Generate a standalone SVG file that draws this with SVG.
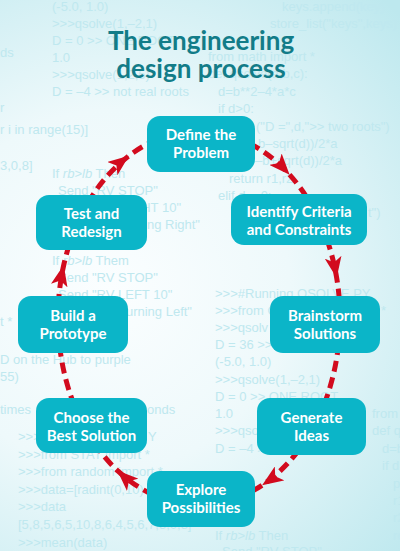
<svg xmlns="http://www.w3.org/2000/svg" width="400" height="551" viewBox="0 0 400 551">
<defs>
<radialGradient id="bg" cx="110" cy="290" r="400" gradientUnits="userSpaceOnUse">
<stop offset="0" stop-color="#fbfeff"/>
<stop offset="0.45" stop-color="#eef9fb"/>
<stop offset="1" stop-color="#bde8ee"/>
</radialGradient>
<marker id="ah" markerUnits="userSpaceOnUse" viewBox="0 0 20 16" refX="19" refY="8" markerWidth="21" markerHeight="17" orient="auto">
<path d="M0,0 L20,8 L0,16 L5,8 Z" fill="#d20b1e"/>
</marker>
<style>
.code{font-family:"Liberation Sans",Arial,sans-serif;font-size:13px;fill:#bfe8ef}
.title{font-family:Lato,"Noto Sans",sans-serif;font-weight:700;font-size:26px;fill:#127c88;text-anchor:middle}
.box{fill:#0bb5c8}
.lbl{font-family:Lato,"Noto Sans",sans-serif;font-weight:700;font-size:15px;fill:#ffffff;text-anchor:middle}
.conn{fill:none;stroke:#d20b1e;stroke-width:5;stroke-dasharray:11 6}
.e{text-anchor:end}
</style>
</defs>
<rect x="0" y="0" width="400" height="551" fill="url(#bg)"/>
<g id="background-code" class="code">
<text x="52" y="11">(-5.0, 1.0)</text>
<text x="52" y="28">&gt;&gt;&gt;qsolve(1,–2,1)</text>
<text x="52" y="45">D = 0 &gt;&gt; ONE ROOT</text>
<text x="52" y="62">1.0</text>
<text x="52" y="79">&gt;&gt;&gt;qsolve(1,2,5)</text>
<text x="52" y="96">D = –4 &gt;&gt; not real roots</text>
<text x="0" y="57">ds</text>
<text x="0" y="112">r</text>
<text x="0" y="134">r i in range(15)]</text>
<text x="0" y="170">3,0,8]</text>
<text x="52" y="178">If <tspan font-style="italic">rb</tspan>&gt;<tspan font-style="italic">lb</tspan> Then</text>
<text x="58" y="195">Send "RV STOP"</text>
<text class="e" x="181" y="212">HT 10"</text>
<text class="e" x="200" y="229">ing Right"</text>
<text x="52" y="265">If <tspan font-style="italic">rb</tspan>&gt;<tspan font-style="italic">lb</tspan> Them</text>
<text x="58" y="282">Send "RV STOP"</text>
<text x="58" y="299">Send "RV LEFT 10"</text>
<text class="e" x="192" y="316">urning Left"</text>
<text x="0" y="326">t *</text>
<text x="0" y="364">D on the Hub to purple</text>
<text x="0" y="381">55)</text>
<text x="0" y="414">times</text>
<text x="147" y="414">onds</text>
<text x="18" y="441">&gt;&gt;&gt;</text>
<text x="148" y="441">Y</text>
<text x="18" y="459">&gt;&gt;&gt;from STAT import *</text>
<text x="18" y="476">&gt;&gt;&gt;from random import *</text>
<text x="18" y="494">&gt;&gt;&gt;data=[radint(0,10)</text>
<text x="18" y="511">&gt;&gt;&gt;data</text>
<text x="18" y="529">[5,8,5,6,5,10,8,6,4,5,6,7,3,0,8]</text>
<text x="18" y="547">&gt;&gt;&gt;mean(data)</text>
<text x="282" y="11">keys.append(key)</text>
<text x="270" y="28">store_list("keys",keys)</text>
<text x="208" y="61">from math import *</text>
<text x="208" y="78">def qsolve(a,b,c):</text>
<text x="218" y="96">d=b**2–4*a*c</text>
<text x="218" y="113">if d&gt;0:</text>
<text x="256" y="131">("D =",d,"&gt;&gt; two roots")</text>
<text x="258" y="148">b–sqrt(d))/2*a</text>
<text x="255" y="165">–b+sqrt(d))/2*a</text>
<text x="229" y="183">return r1,r2</text>
<text x="218" y="200">elif d==0:</text>
<text x="368" y="217">t")</text>
<text x="215" y="298">&gt;&gt;&gt;#Running QSOLVE.PY</text>
<text x="215" y="315">&gt;&gt;&gt;from Q</text>
<text x="381" y="315">*</text>
<text x="215" y="332">&gt;&gt;&gt;qsolv</text>
<text x="215" y="349">D = 36 &gt;&gt;</text>
<text x="215" y="366">(-5.0, 1.0)</text>
<text x="215" y="384">&gt;&gt;&gt;qsolve(1,–2,1)</text>
<text x="215" y="401">D = 0 &gt;&gt; ONE ROOT</text>
<text x="215" y="418">1.0</text>
<text x="215" y="435">&gt;&gt;&gt;qso</text>
<text x="215" y="453">D = –4 &gt;&gt; not real roots</text>
<text x="372" y="418">from</text>
<text x="372" y="435">def q</text>
<text x="382" y="453">d=b</text>
<text x="382" y="470">if d</text>
<text x="393" y="488">p</text>
<text x="393" y="505">r1</text>
<text x="393" y="522">r2</text>
<text x="393" y="540">re</text>
<text x="215" y="540">If <tspan font-style="italic">rb</tspan>&gt;<tspan font-style="italic">lb</tspan> Then</text>
<text x="222" y="556">Send "RV STOP"</text>
</g>
<g id="title">
<text class="title" x="201" y="50">The engineering</text>
<text class="title" x="201" y="78">design process</text>
</g>
<g id="connectors">
<path class="conn" marker-mid="url(#ah)" d="M249.5,143.4 A141 187 0 0 1 288.9,173.9 A141 187 0 0 1 308.6,200.3"/>
<path class="conn" marker-mid="url(#ah)" d="M326.8,239 A141 187 0 0 1 336.5,276.9 A141 187 0 0 1 339.7,305"/>
<path class="conn" d="M338.6,344 A141 187 0 0 1 323.5,405.8"/>
<path class="conn" marker-mid="url(#ah)" d="M298.7,450.2 A141 187 0 0 1 263,484.6 A141 187 0 0 1 249.5,492.6"/>
<path class="conn" marker-mid="url(#ah)" d="M153.1,494.8 A141 187 0 0 1 118.1,471.2 A141 187 0 0 1 95.9,445.5"/>
<path class="conn" d="M74.5,405.8 A141 187 0 0 1 59.4,344"/>
<path class="conn" marker-mid="url(#ah)" d="M58.3,304.9 A141 187 0 0 1 63.5,266.1 A141 187 0 0 1 70.2,241.9"/>
<path class="conn" marker-mid="url(#ah)" d="M87.9,202.9 A141 187 0 0 1 128.1,156.4 A141 187 0 0 1 153.1,141.2"/>
</g>
<g id="define">
<rect class="box" x="147" y="116" width="108" height="56" rx="13"/>
<text class="lbl" x="201" y="140">Define the</text>
<text class="lbl" x="201" y="158">Problem</text>
</g>
<g id="identify">
<rect class="box" x="231" y="194" width="136" height="51" rx="13"/>
<text class="lbl" x="299" y="217">Identify Criteria</text>
<text class="lbl" x="299" y="235">and Constraints</text>
</g>
<g id="brainstorm">
<rect class="box" x="270" y="296" width="110" height="57" rx="13"/>
<text class="lbl" x="325" y="321">Brainstorm</text>
<text class="lbl" x="325" y="339">Solutions</text>
</g>
<g id="generate">
<rect class="box" x="257" y="398" width="109" height="57" rx="13"/>
<text class="lbl" x="311.5" y="423">Generate</text>
<text class="lbl" x="311.5" y="441">Ideas</text>
</g>
<g id="explore">
<rect class="box" x="147" y="471" width="108" height="56" rx="13"/>
<text class="lbl" x="201" y="495">Explore</text>
<text class="lbl" x="201" y="513">Possibilities</text>
</g>
<g id="choose">
<rect class="box" x="36" y="398" width="111" height="55" rx="13"/>
<text class="lbl" x="91.5" y="423">Choose the</text>
<text class="lbl" x="91.5" y="441">Best Solution</text>
</g>
<g id="build">
<rect class="box" x="18" y="296" width="110" height="57" rx="13"/>
<text class="lbl" x="73" y="321">Build a</text>
<text class="lbl" x="73" y="339">Prototype</text>
</g>
<g id="test">
<rect class="box" x="36" y="195" width="111" height="55" rx="13"/>
<text class="lbl" x="91.5" y="219">Test and</text>
<text class="lbl" x="91.5" y="237">Redesign</text>
</g>
</svg>
